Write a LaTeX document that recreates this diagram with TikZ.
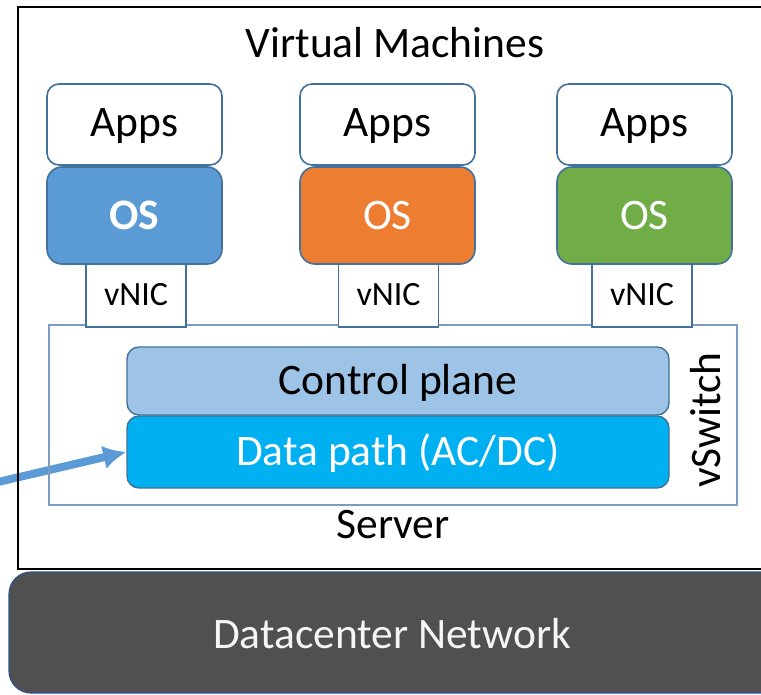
\documentclass[tikz,border=0pt]{standalone}
\usepackage{fontspec}
\setmainfont{Carlito}
\usetikzlibrary{arrows.meta}
\definecolor{boxline}{HTML}{41719C}
\definecolor{swline}{HTML}{7C9CC4}
\definecolor{osblue}{HTML}{5B9BD5}
\definecolor{osorange}{HTML}{ED7D31}
\definecolor{osgreen}{HTML}{70AD47}
\definecolor{ctrlfill}{HTML}{9DC3E6}
\definecolor{datafill}{HTML}{00B0F0}
\definecolor{netfill}{HTML}{505050}
\definecolor{netline}{HTML}{2F528F}
\definecolor{arrowblue}{HTML}{5B9BD5}
\begin{document}
\begin{tikzpicture}[x=1pt,y=-1pt,
  big/.style={font=\fontsize{43.5}{52}\selectfont, text height=27.5pt, text depth=0pt, inner sep=0pt},
  small/.style={font=\fontsize{34}{40}\selectfont, text height=21pt, text depth=0pt, inner sep=0pt},
  appsbox/.style={big, text depth=4pt, draw=boxline, fill=white, line width=1.6pt, rounded corners=12pt,
    minimum width=175pt, minimum height=81pt},
  osbox/.style={big, draw=boxline, line width=1.6pt, rounded corners=15pt, text=white,
    minimum width=175pt, minimum height=97pt},
  nicbox/.style={small, draw=boxline, fill=white, line width=1.6pt,
    minimum width=100pt, minimum height=63pt},
  planebox/.style={big, draw=boxline, line width=1.4pt, rounded corners=12pt,
    minimum width=542pt},
  caption/.style={big, text=black}]
\clip (0,0) rectangle (761,695);
\fill[white] (0,0) rectangle (761,695);

% switch planes (placed first so the arrow can aim at them)
\node[planebox, fill=ctrlfill, minimum height=68pt] (ctrl) at (398,381) {Control plane};
\node[planebox, fill=datafill, minimum height=72pt, text=white] (data) at (398,452) {Data path (AC/DC)};

% traffic entering the data path, under the frame lines
\coordinate (src) at (-2,482);
\draw[draw=arrowblue, line width=8pt, -{Latex[length=23pt,width=24pt]}] (src) -- (data.west);

% server frame, running off the right edge
\draw[black, line width=1.8pt] (18,7) rectangle (800,569);

% datacenter network slab
\node[draw=netline, fill=netfill, line width=1.2pt, rounded corners=22pt,
  minimum width=790pt, minimum height=121pt, inner sep=0pt] (net) at (404,632.5) {};
\node[big, text=white!96!black] (netlabel) at (392,635) {Datacenter Network};

% vSwitch frame
\node[draw=swline, line width=1.5pt, minimum width=688pt, minimum height=180pt,
  inner sep=0pt] (vswitch) at (393,415) {};
\node[big, rotate=90] (vswlabel) at (706.5,420) {vSwitch};

% virtual NICs
\node[nicbox] (nic1) at (136,295.5) {vNIC};
\node[nicbox] (nic2) at (388.5,295.5) {vNIC};
\node[nicbox] (nic3) at (642,295.5) {vNIC};

% virtual machines: apps on top of guest OS
\node[appsbox] (apps1) at (134.5,124.5) {Apps};
\node[appsbox] (apps2) at (387.5,124.5) {Apps};
\node[appsbox] (apps3) at (644.5,124.5) {Apps};
\node[osbox, fill=osblue, font=\fontsize{43.5}{52}\selectfont\bfseries] (os1) at (134.5,215.5) {OS};
\node[osbox, fill=osorange] (os2) at (387.5,215.5) {OS};
\node[osbox, fill=osgreen] (os3) at (644.5,215.5) {OS};

% titles
\node[caption] (vmtitle) at (395,44) {Virtual Machines};
\node[caption] (server) at (393,525) {Server};
\end{tikzpicture}
\end{document}
